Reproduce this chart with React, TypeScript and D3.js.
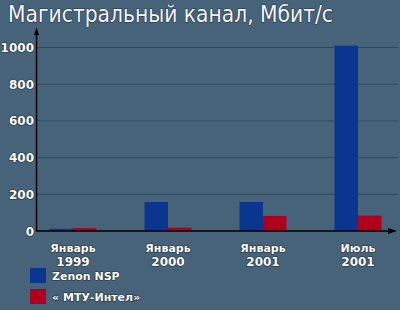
import React from "react";
import * as d3 from "d3";

const categories = ["Январь|1999", "Январь|2000", "Январь|2001", "Июль|2001"];
const zenon = [12, 158, 158, 1010];
const mtu = [16, 18, 82, 84];
const seriesNames = ["Zenon NSP", "« МТУ-Интел»"];
const yTicks = [0, 200, 400, 600, 800, 1000];

const W = 400, H = 310;
const BG = "#476379";
const GRID = "#30495f";
const BLUE = "#0a3690";
const RED = "#ae001d";

export default function App() {
  const x = d3.scalePoint<string>().domain(categories).range([73, 358]);
  const y = d3.scaleLinear().domain([0, 1000]).range([231, 47.5]);
  const bw = 23.5;
  const txtStyle: React.CSSProperties = {
    fontFamily: "DejaVu Sans, sans-serif",
    fontWeight: "bold",
    fill: "#ffffff",
    paintOrder: "stroke",
    stroke: "#1e2e3c",
    strokeWidth: 1.2,
  };
  return (
    <svg width={W} height={H} style={{ position: "absolute", left: 0, top: 0, display: "block" }}>
      <rect x={0} y={0} width={W} height={H} fill={BG} />
      <text x={8} y={22} fontFamily="DejaVu Sans Condensed, DejaVu Sans, sans-serif" fontSize={23} fill="#f4f6f8"
        style={{ paintOrder: "stroke", stroke: "#22344a", strokeWidth: 1.2 }} textLength={325} lengthAdjust="spacingAndGlyphs">
        Магистральный канал, Мбит/с
      </text>
      {yTicks.filter(t => t > 0).map(t => (
        <line key={t} x1={37} x2={398} y1={y(t)} y2={y(t)} stroke={GRID} strokeWidth={1} />
      ))}
      {yTicks.map(t => (
        <text key={"l" + t} x={34} y={y(t) + 4.5} textAnchor="end" fontSize={12} style={txtStyle}>
          {t}
        </text>
      ))}
      {categories.map((c, i) => {
        const x0 = x(c)! - bw;
        return (
          <g key={c}>
            <rect x={x0} y={y(zenon[i])} width={bw} height={y(0) - y(zenon[i])} fill={BLUE} />
            <rect x={x0 + bw} y={y(mtu[i])} width={bw} height={y(0) - y(mtu[i])} fill={RED} />
          </g>
        );
      })}
      {/* axes */}
      <line x1={36.5} x2={36.5} y1={231} y2={32} stroke="#000" strokeWidth={1.5} />
      <path d="M36.5,27 L34,35 L39,35 Z" fill="#000" />
      <line x1={36} x2={392} y1={231} y2={231} stroke="#000" strokeWidth={1.5} />
      <path d="M397,231 L388,228 L388,234 Z" fill="#000" />
      {categories.map(c => {
        const [a, b] = c.split("|");
        const cx = x(c)!;
        return (
          <g key={"c" + c}>
            <text x={cx} y={252} textAnchor="middle" fontSize={11} style={txtStyle}>{a}</text>
            <text x={cx} y={265.5} textAnchor="middle" fontSize={12} style={txtStyle}>{b}</text>
          </g>
        );
      })}
      {seriesNames.map((s, i) => (
        <g key={s}>
          <rect x={30} y={268 + i * 21} width={16} height={15} fill={i === 0 ? BLUE : RED} />
          <text x={52} y={280 + i * 21} fontSize={11} style={txtStyle}>{s}</text>
        </g>
      ))}
    </svg>
  );
}
